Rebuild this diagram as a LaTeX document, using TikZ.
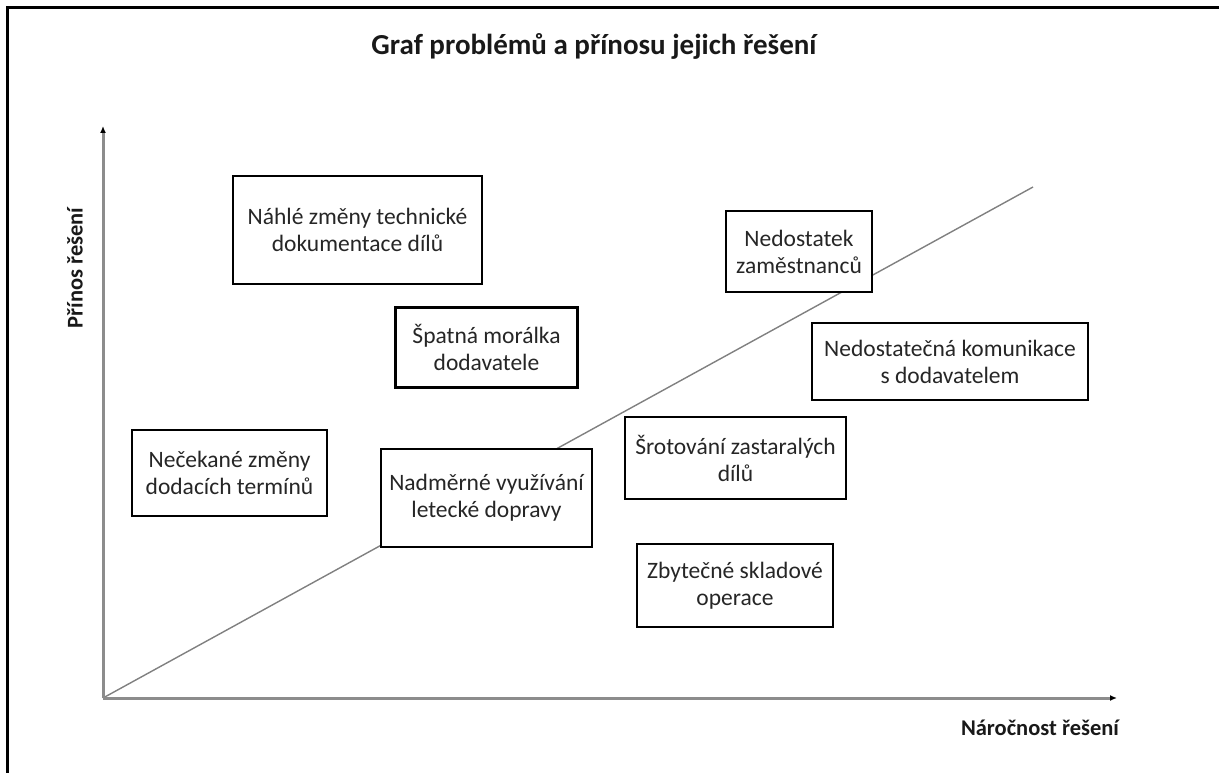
\documentclass[tikz,border=0pt]{standalone}
\usepackage{fontspec}
\setmainfont{Carlito}
\usetikzlibrary{arrows.meta}
\begin{document}
\begin{tikzpicture}[x=1pt,y=-1pt,
  issue/.style={draw=black,line width=2.8pt,fill=white,align=center,
    text=black!85,inner sep=0pt,
    font=\fontsize{23.5}{27}\selectfont},
  axis/.style={draw=black!45,line width=3pt,-{Latex[length=7pt,width=6pt,black]}},
  axislabel/.style={font=\fontsize{22.5}{26}\selectfont\bfseries,text=black!90},
  trend/.style={draw=black!50,line width=1.4pt}]
  \useasboundingbox (0,0) rectangle (1219,773);
  % page frame, open at the right and bottom
  \draw[line width=2.2pt] (7.5,773) -- (7.5,7.5) -- (1219,7.5);
  % title
  \node[font=\fontsize{29}{34}\selectfont\bfseries,text=black!90] (title) at (594,46) {Graf problémů a přínosu jejich řešení};
  % axes
  \coordinate (O) at (103,698);
  \coordinate (ytop) at (103,126);
  \coordinate (xend) at (1117,698);
  \coordinate (tend) at (1033,187);
  \draw[trend] (O) -- (tend);
  \draw[axis] (O) -- (ytop);
  \draw[axis] (O) -- (xend);
  \node[axislabel,rotate=90] (ylab) at (75,268) {Přínos řešení};
  \node[axislabel] (xlab) at (1040,728) {Náročnost řešení};
  % problem boxes
  \node[issue,minimum width=249pt,minimum height=108pt] (b1) at (357.5,230) {Náhlé změny technické\\dokumentace dílů};
  \node[issue,minimum width=182pt,minimum height=80pt] (b2) at (486.5,347.5) {Špatná morálka\\dodavatele};
  \node[issue,minimum width=146pt,minimum height=81pt] (b3) at (799,251.5) {Nedostatek\\zaměstnanců};
  \node[issue,minimum width=276pt,minimum height=77pt] (b4) at (950,361.5) {Nedostatečná komunikace\\s dodavatelem};
  \node[issue,minimum width=195pt,minimum height=86pt] (b5) at (229.5,473) {Nečekané změny\\dodacích termínů};
  \node[issue,minimum width=211pt,minimum height=98pt] (b6) at (486.5,498) {Nadměrné využívání\\letecké dopravy};
  \node[issue,minimum width=221pt,minimum height=82pt] (b7) at (735.5,458) {Šrotování zastaralých\\dílů};
  \node[issue,minimum width=196pt,minimum height=83pt] (b8) at (735,585.5) {Zbytečné skladové\\operace};
\end{tikzpicture}
\end{document}
